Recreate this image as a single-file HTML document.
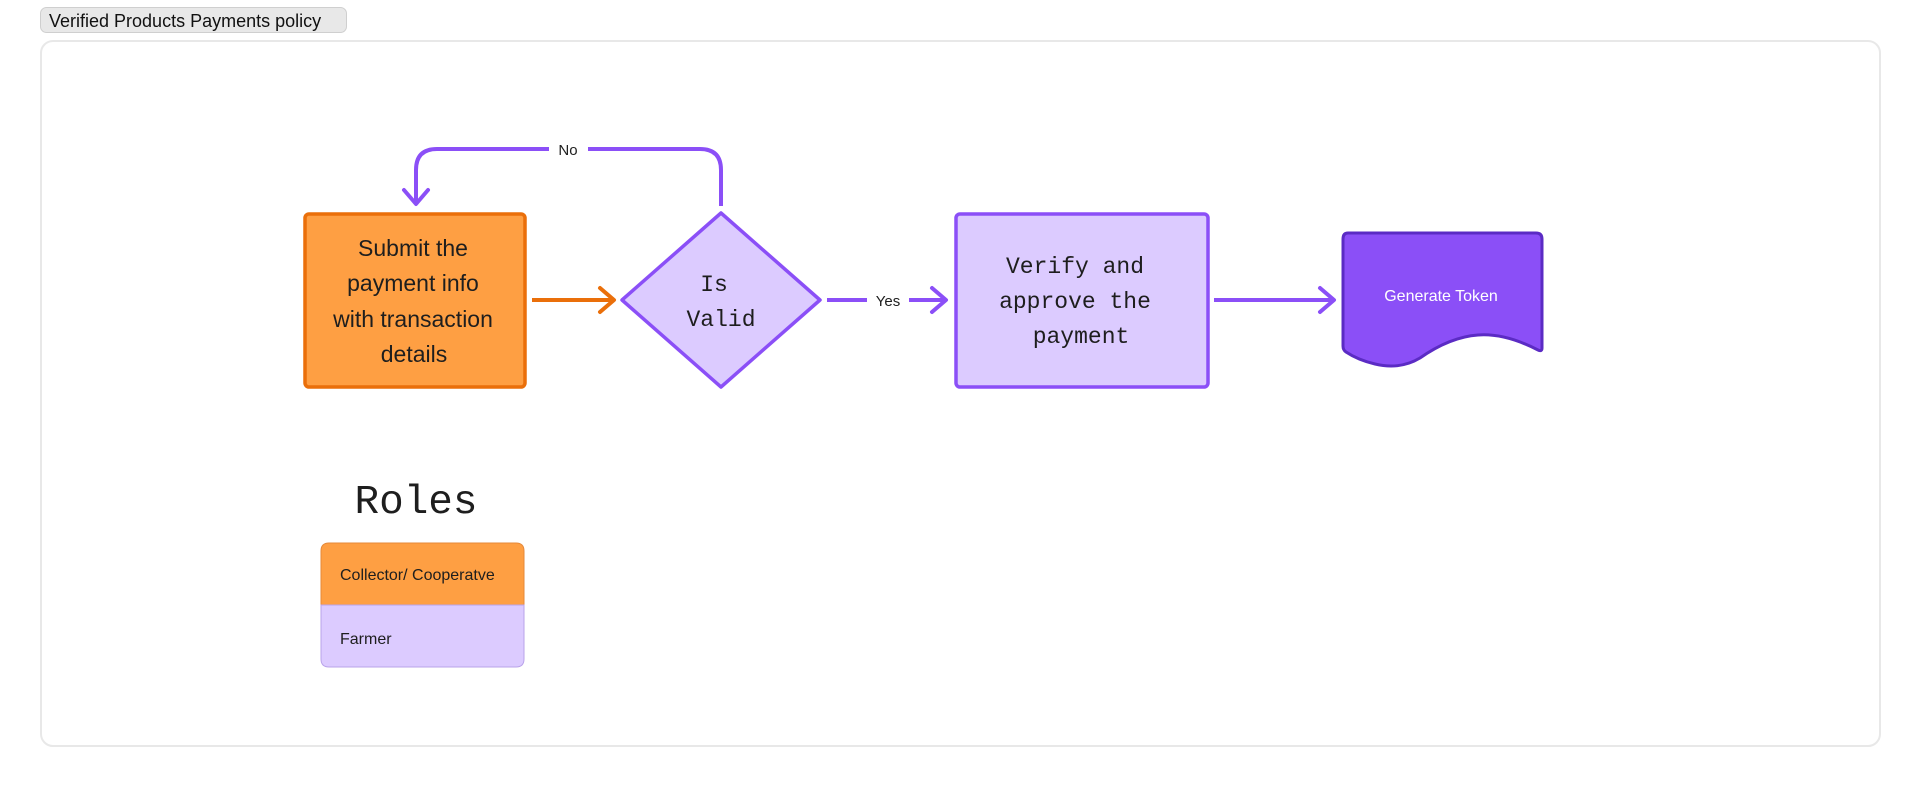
<!DOCTYPE html>
<html><head><meta charset="utf-8"><style>
html,body{margin:0;padding:0;background:#fff;width:1920px;height:787px;overflow:hidden}
</style></head><body>
<svg width="1920" height="787" viewBox="0 0 1920 787" xmlns="http://www.w3.org/2000/svg">
<defs>
<marker id="ap" viewBox="0 0 20 30" refX="17" refY="15" markerWidth="20" markerHeight="30" markerUnits="userSpaceOnUse" orient="auto"><path d="M3 3 L17 15 L3 27" fill="none" stroke="#8b4ff7" stroke-width="4" stroke-linecap="round" stroke-linejoin="round"/></marker>
<marker id="ao" viewBox="0 0 20 30" refX="17" refY="15" markerWidth="20" markerHeight="30" markerUnits="userSpaceOnUse" orient="auto"><path d="M3 3 L17 15 L3 27" fill="none" stroke="#ea6f0a" stroke-width="4" stroke-linecap="round" stroke-linejoin="round"/></marker>
</defs>
<rect x="40.5" y="7.5" width="306" height="25" rx="6" fill="#e8e8e8" stroke="#cfcfcf"/>
<text x="49" y="27" font-family="Liberation Sans, sans-serif" font-size="18" fill="#111">Verified Products Payments policy</text>
<rect x="41" y="41" width="1839" height="705" rx="12" fill="#fff" stroke="#e8e8e8" stroke-width="2"/>

<rect x="305" y="214" width="220" height="173" rx="4" fill="#fe9f43" stroke="#ea6f0a" stroke-width="3.5"/>
<g font-family="Liberation Sans, sans-serif" font-size="23" fill="#1e1e1e" text-anchor="middle">
<text x="413" y="256">Submit the</text>
<text x="413" y="291">payment info</text>
<text x="413" y="327">with transaction</text>
<text x="414" y="362">details</text>
</g>

<polygon points="721,213 820,300 721,387 622,300" fill="#dccbff" stroke="#8b4ff7" stroke-width="3.5" stroke-linejoin="round"/>
<g font-family="Liberation Mono, monospace" font-size="23" fill="#1e1e1e" text-anchor="middle">
<text x="714" y="291">Is</text>
<text x="721" y="326">Valid</text>
</g>

<rect x="956" y="214" width="252" height="173" rx="4" fill="#dccbff" stroke="#8b4ff7" stroke-width="3.5"/>
<g font-family="Liberation Mono, monospace" font-size="23" fill="#1e1e1e" text-anchor="middle">
<text x="1075" y="273">Verify and</text>
<text x="1075" y="308">approve the</text>
<text x="1081" y="343">payment</text>
</g>

<path d="M1348 233 H1536 Q1542 233 1542 239 V348 Q1542 352 1538 350 Q1505 333 1478 335 Q1450 337 1420 358 Q1400 370 1375 364 Q1358 360 1346 352 Q1343 350 1343 346 V239 Q1343 233 1348 233 Z" fill="#8b4ff7" stroke="#5b2bc4" stroke-width="3"/>
<text x="1441" y="301" font-family="Liberation Sans, sans-serif" font-size="16" fill="#fff" text-anchor="middle">Generate Token</text>

<line x1="532" y1="300" x2="614" y2="300" stroke="#ea6f0a" stroke-width="4" marker-end="url(#ao)"/>
<line x1="827" y1="300" x2="867" y2="300" stroke="#8b4ff7" stroke-width="4"/>
<line x1="909" y1="300" x2="946" y2="300" stroke="#8b4ff7" stroke-width="4" marker-end="url(#ap)"/>
<text x="888" y="306" font-family="Liberation Sans, sans-serif" font-size="15" fill="#1e1e1e" text-anchor="middle">Yes</text>
<line x1="1214" y1="300" x2="1334" y2="300" stroke="#8b4ff7" stroke-width="4" marker-end="url(#ap)"/>

<path d="M721 206 V170 Q721 149 700 149 H588" fill="none" stroke="#8b4ff7" stroke-width="4"/>
<path d="M549 149 H437 Q416 149 416 170 V204" fill="none" stroke="#8b4ff7" stroke-width="4" marker-end="url(#ap)"/>
<text x="568" y="155" font-family="Liberation Sans, sans-serif" font-size="15" fill="#1e1e1e" text-anchor="middle">No</text>

<text x="416" y="513" font-family="Liberation Mono, monospace" font-size="41" fill="#1e1e1e" text-anchor="middle">Roles</text>

<path d="M329 543 H516 Q524 543 524 551 V605 H321 V551 Q321 543 329 543 Z" fill="#fe9f43" stroke="#e6893a" stroke-width="1"/>
<path d="M321 605 H524 V659 Q524 667 516 667 H329 Q321 667 321 659 Z" fill="#dccbff" stroke="#b9a3ea" stroke-width="1"/>
<text x="340" y="580" font-family="Liberation Sans, sans-serif" font-size="16" fill="#1e1e1e">Collector/ Cooperatve</text>
<text x="340" y="644" font-family="Liberation Sans, sans-serif" font-size="16" fill="#1e1e1e">Farmer</text>
</svg>
</body></html>
